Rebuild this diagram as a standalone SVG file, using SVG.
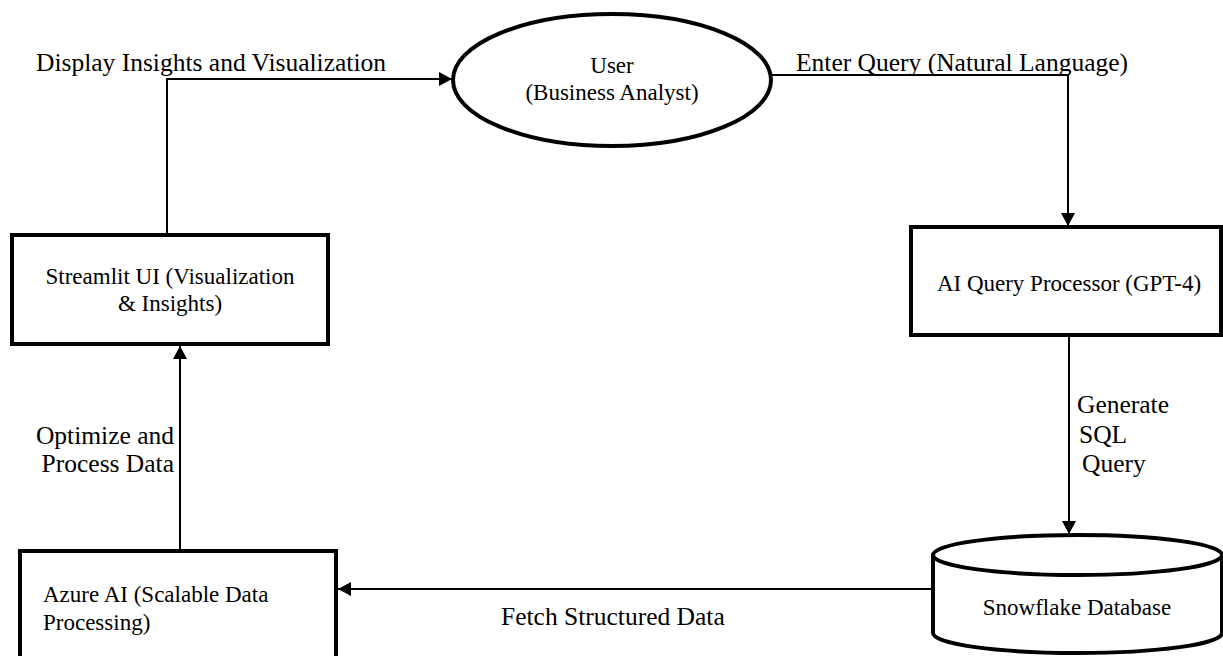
<svg xmlns="http://www.w3.org/2000/svg" width="1223" height="656" viewBox="0 0 1223 656">
<style>
.node{fill:#fff;stroke:#000;stroke-width:4}
.edge{fill:none;stroke:#000;stroke-width:2}
.nt{font-family:"Liberation Serif","Times New Roman",serif;font-size:23px;fill:#000}
.lt{font-family:"Liberation Serif","Times New Roman",serif;font-size:25.5px;fill:#000}
</style>
<defs>
<marker id="arr" markerWidth="13" markerHeight="14" refX="13" refY="7" orient="auto" markerUnits="userSpaceOnUse">
<path d="M0,0 L13,7 L0,14 Z" fill="#000"/>
</marker>
</defs>
<rect width="1223" height="656" fill="#fff"/>
<g id="connectors">
<polyline class="edge" points="167,235 167,79 452,79" marker-end="url(#arr)"/>
<polyline class="edge" points="772,75 1068,75 1068,226" marker-end="url(#arr)"/>
<line class="edge" x1="1069" y1="335" x2="1069" y2="534" marker-end="url(#arr)"/>
<line class="edge" x1="933" y1="589" x2="338" y2="589" marker-end="url(#arr)"/>
<line class="edge" x1="180" y1="551" x2="180" y2="346" marker-end="url(#arr)"/>
<text class="lt" x="36" y="71">Display Insights and Visualization</text>
<text class="lt" x="796" y="71">Enter Query (Natural Language)</text>
<text class="lt" x="1077" y="413">Generate</text>
<text class="lt" x="1079" y="443">SQL</text>
<text class="lt" x="1082" y="472">Query</text>
<text class="lt" x="501" y="625">Fetch Structured Data</text>
<text class="lt" x="174" y="444" text-anchor="end">Optimize and</text>
<text class="lt" x="174" y="472" text-anchor="end">Process Data</text>
</g>
<g id="user">
<ellipse class="node" cx="612" cy="80" rx="159" ry="66"/>
<text class="nt" x="612" y="73" text-anchor="middle">User</text>
<text class="nt" x="612" y="100" text-anchor="middle">(Business Analyst)</text>
</g>
<g id="ai-query-processor">
<rect class="node" x="911" y="227" width="310" height="108"/>
<text class="nt" x="1069" y="291" text-anchor="middle">AI Query Processor (GPT-4)</text>
</g>
<g id="snowflake-database">
<path class="node" d="M933,555 L933,633 A144.5,20 0 0 0 1222,633 L1222,555"/>
<ellipse class="node" cx="1077.5" cy="555" rx="144.5" ry="20"/>
<text class="nt" x="1077" y="615" text-anchor="middle">Snowflake Database</text>
</g>
<g id="azure-ai">
<rect class="node" x="20" y="551" width="316" height="120"/>
<text class="nt" x="43" y="602">Azure AI (Scalable Data</text>
<text class="nt" x="43" y="630">Processing)</text>
</g>
<g id="streamlit-ui">
<rect class="node" x="12" y="235" width="316" height="109"/>
<text class="nt" x="170" y="284" text-anchor="middle">Streamlit UI (Visualization</text>
<text class="nt" x="170" y="311" text-anchor="middle">&amp; Insights)</text>
</g>
</svg>
